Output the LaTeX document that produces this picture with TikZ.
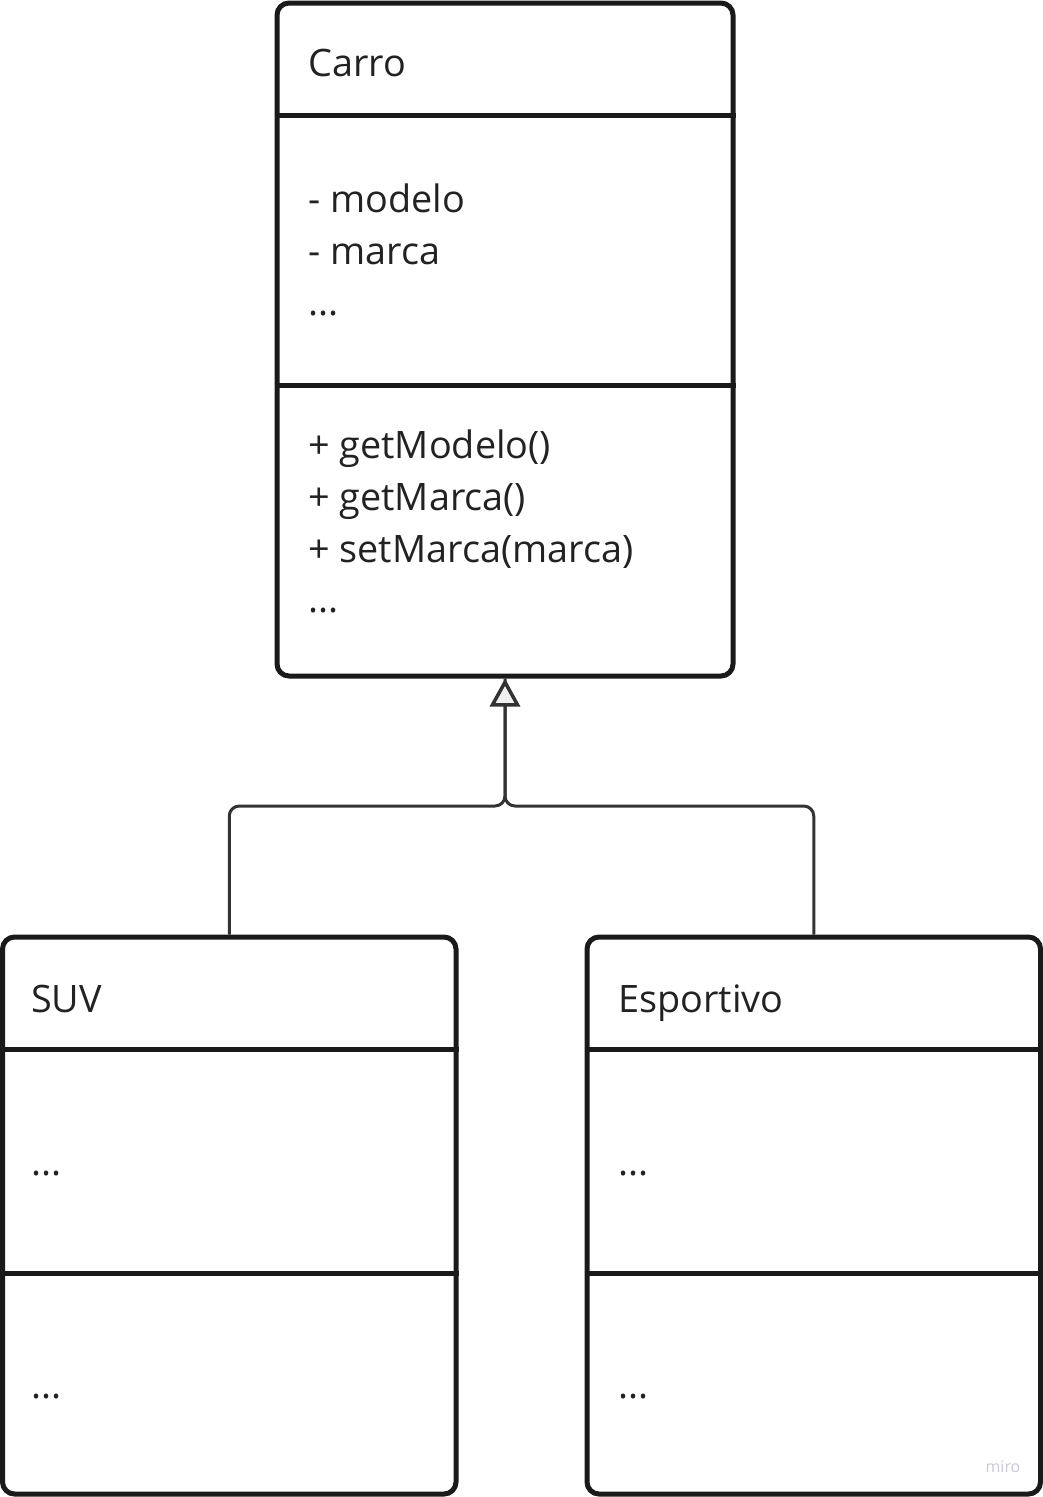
\documentclass[tikz,border=0pt]{standalone}
\usepackage{fontspec}
\setmainfont{Open Sans}
\usepackage{tikz}
\usetikzlibrary{arrows.meta}

\definecolor{boxline}{HTML}{1A1A1A}
\definecolor{connline}{HTML}{333333}
\definecolor{txtcol}{HTML}{222222}
\definecolor{mirocol}{HTML}{C8C8D8}

\tikzset{
  classbox/.style={draw=boxline, line width=5pt, rounded corners=12pt, inner sep=0pt},
  sepline/.style={draw=boxline, line width=5pt},
  member/.style={anchor=base west, inner sep=0pt, text=txtcol, font=\fontsize{37.8}{46}\selectfont},
  inherit/.style={draw=connline, line width=3pt, rounded corners=10pt},
}

\begin{document}
\begin{tikzpicture}[x=1pt, y=-1pt]
\useasboundingbox (0,0) rectangle (1043,1497);
% class boxes
\node [classbox, minimum width=456pt, minimum height=673pt] (carro) at (505,339.5) {};
\node [classbox, minimum width=453.5pt, minimum height=557pt] (suv) at (229.25,1215.5) {};
\node [classbox, minimum width=453.5pt, minimum height=557pt] (esportivo) at (813.75,1215.5) {};
% compartments
\draw [sepline] (carro.west |- 0,115) -- (carro.east |- 0,115);
\draw [sepline] (carro.west |- 0,385) -- (carro.east |- 0,385);
\draw [sepline] (suv.west |- 0,1049) -- (suv.east |- 0,1049);
\draw [sepline] (suv.west |- 0,1273) -- (suv.east |- 0,1273);
\draw [sepline] (esportivo.west |- 0,1049) -- (esportivo.east |- 0,1049);
\draw [sepline] (esportivo.west |- 0,1273) -- (esportivo.east |- 0,1273);
% texts
\node [member] (carroname) at (308,76) {Carro};
\node [member] (modelo) at (308,212) {- modelo};
\node [member] (marca) at (308,264) {- marca};
\node [member] (carroattr) at (308,315) {...};
\node [member] (getmodelo) at (308,458) {+ getModelo()};
\node [member] (getmarca) at (308,510) {+ getMarca()};
\node [member] (setmarca) at (308,562) {+ setMarca(marca)};
\node [member] (carroops) at (308,612) {...};
\node [member] (suvname) at (31,1012) {SUV};
\node [member] (suvattr) at (31,1175) {...};
\node [member] (suvops) at (31,1398) {...};
\node [member] (espname) at (618,1012) {Esportivo};
\node [member] (espattr) at (618,1175) {...};
\node [member] (espops) at (618,1398) {...};
% generalization
\coordinate (join) at (505,806);
\draw [inherit] (esportivo.north) |- (join) -- (carro.south);
\draw [inherit, -{Triangle[length=28pt, width=30pt, line width=3.5pt, fill=black!6]}] (suv.north) |- (join) -- (carro.south);
\node [text=mirocol, font=\fontsize{16}{18}\selectfont] (miro) at (1003,1467) {miro};
\end{tikzpicture}
\end{document}
